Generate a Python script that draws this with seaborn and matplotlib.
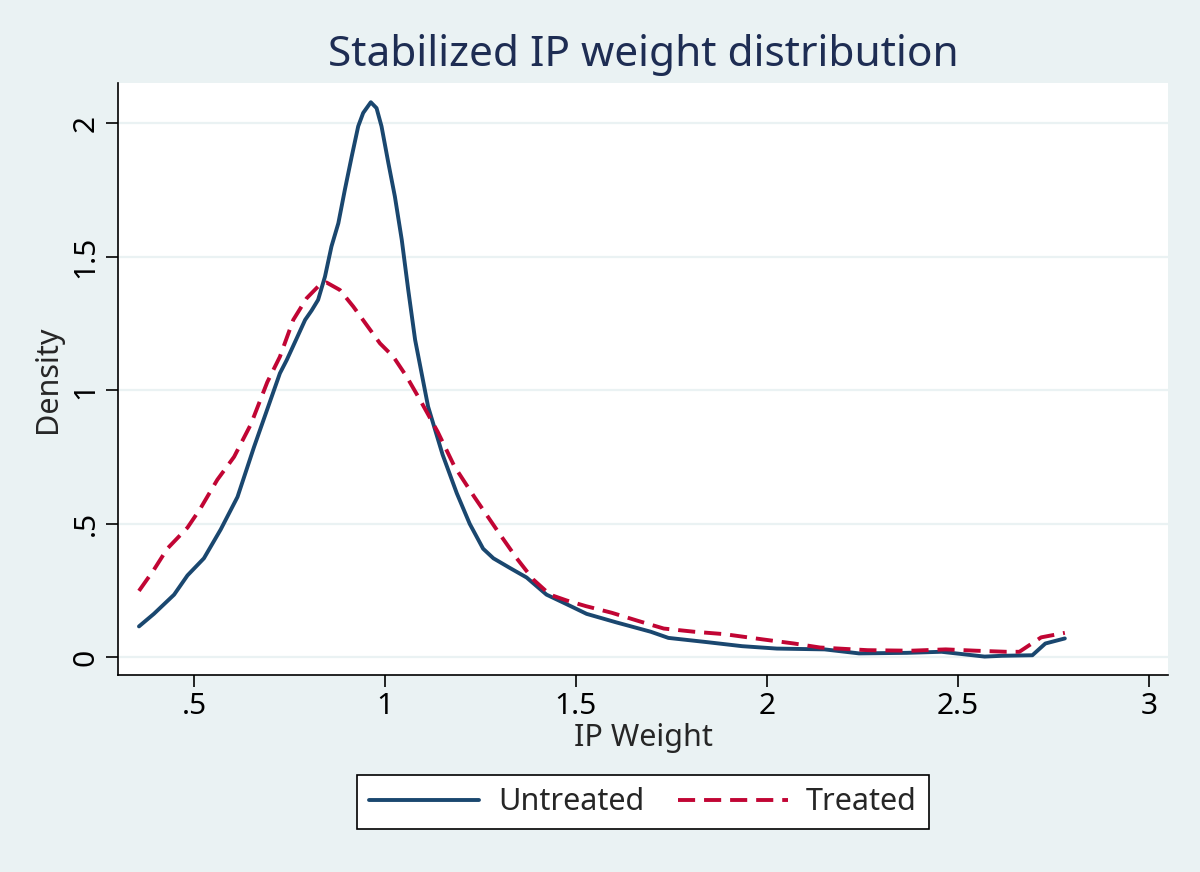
import numpy as np
import pandas as pd
import seaborn as sns
import matplotlib.pyplot as plt

# Kernel density curves
untreated_x = [0.356, 0.395, 0.448, 0.483, 0.526, 0.570, 0.614, 0.657, 0.725, 0.743,
               0.769, 0.791, 0.808, 0.825, 0.843, 0.860, 0.878, 0.895, 0.913, 0.930,
               0.943, 0.963, 0.978, 0.991, 1.009, 1.026, 1.044, 1.061, 1.079, 1.096,
               1.113, 1.151, 1.188, 1.222, 1.257, 1.284, 1.327, 1.371, 1.423, 1.476,
               1.528, 1.606, 1.696, 1.742, 1.844, 1.935, 2.026, 2.151, 2.241, 2.366,
               2.457, 2.570, 2.616, 2.695, 2.729, 2.780]
untreated_y = [0.115, 0.162, 0.234, 0.306, 0.370, 0.478, 0.600, 0.786, 1.063, 1.113,
               1.194, 1.263, 1.298, 1.338, 1.425, 1.538, 1.625, 1.750, 1.875, 1.988,
               2.038, 2.078, 2.056, 1.988, 1.850, 1.725, 1.563, 1.375, 1.188, 1.063,
               0.938, 0.758, 0.614, 0.499, 0.406, 0.370, 0.334, 0.298, 0.234, 0.198,
               0.162, 0.130, 0.095, 0.072, 0.056, 0.041, 0.032, 0.029, 0.014, 0.016,
               0.020, 0.002, 0.005, 0.007, 0.051, 0.070]

treated_x = [0.356, 0.395, 0.430, 0.483, 0.517, 0.561, 0.605, 0.649, 0.692, 0.725,
             0.760, 0.795, 0.825, 0.847, 0.882, 0.917, 0.952, 0.987, 1.022, 1.057,
             1.092, 1.138, 1.182, 1.234, 1.296, 1.345, 1.388, 1.432, 1.476, 1.526,
             1.594, 1.662, 1.730, 1.810, 1.889, 1.991, 2.071, 2.139, 2.264, 2.377,
             2.468, 2.548, 2.627, 2.661, 2.718, 2.780]
treated_y = [0.248, 0.327, 0.406, 0.485, 0.557, 0.664, 0.750, 0.872, 1.030, 1.125,
             1.263, 1.344, 1.388, 1.403, 1.375, 1.313, 1.244, 1.175, 1.125, 1.050,
             0.963, 0.844, 0.714, 0.600, 0.470, 0.370, 0.291, 0.234, 0.212, 0.191,
             0.166, 0.136, 0.107, 0.095, 0.086, 0.066, 0.051, 0.036, 0.026, 0.024,
             0.029, 0.024, 0.020, 0.020, 0.074, 0.091]

x_ticks = [0.5, 1, 1.5, 2, 2.5, 3]
x_labels = ['.5', '1', '1.5', '2', '2.5', '3']
y_ticks = [0, 0.5, 1, 1.5, 2]
y_labels = ['0', '.5', '1', '1.5', '2']

bg = '#eaf2f3'
navy = '#1a476f'
cranberry = '#c10534'

sns.set_style('white')
plt.rcParams['font.family'] = ['Noto Sans', 'DejaVu Sans']

fig = plt.figure(figsize=(12, 8.72), dpi=100, facecolor=bg)
ax = fig.add_axes([0.0983, 0.2259, 0.8750, 0.6789])
ax.set_facecolor('white')

sns.lineplot(x=untreated_x, y=untreated_y, ax=ax, color=navy, linewidth=2.8,
             label='Untreated')
sns.lineplot(x=treated_x, y=treated_y, ax=ax, color=cranberry, linewidth=2.8,
             label='Treated')
ax.lines[1].set_linestyle((0, (4.4, 2.3)))
for ln in ax.lines:
    ln.set_solid_joinstyle('round')
    ln.set_dash_joinstyle('round')

ax.set_xlim(0.301, 3.05)
ax.set_ylim(-0.067, 2.15)
ax.set_xticks(x_ticks)
ax.set_xticklabels(x_labels)
ax.set_yticks(y_ticks)
ax.set_yticklabels(y_labels, rotation=90, va='center')

ax.yaxis.grid(True, color=bg, linewidth=1.6)
ax.set_axisbelow(True)
for side in ['top', 'right']:
    ax.spines[side].set_visible(False)
for side in ['left', 'bottom']:
    ax.spines[side].set_color('black')
    ax.spines[side].set_linewidth(1.2)
ax.tick_params(axis='both', direction='out', length=8.5, width=1.2, color='black',
               labelsize=21.5, labelcolor='black', pad=4, left=True, bottom=True)

ax.set_xlabel('IP Weight', fontsize=22, labelpad=1)
ax.set_ylabel('Density', fontsize=22, labelpad=6)
ax.set_title('Stabilized IP weight distribution', fontsize=30.5, color='#1e2d53', pad=12)

ax.get_legend().remove()
leg = fig.legend(handles=ax.lines[:2], labels=['Untreated', 'Treated'], ncol=2,
                 loc='center', bbox_to_anchor=(0.536, 0.080), fontsize=22,
                 frameon=True, fancybox=False, edgecolor='black', facecolor='white',
                 framealpha=1, handlelength=3.6, handletextpad=0.6, columnspacing=1.1,
                 borderpad=0.4, borderaxespad=0)
leg.get_frame().set_linewidth(1.2)

fig.savefig('out.png', dpi=100, facecolor=bg)
